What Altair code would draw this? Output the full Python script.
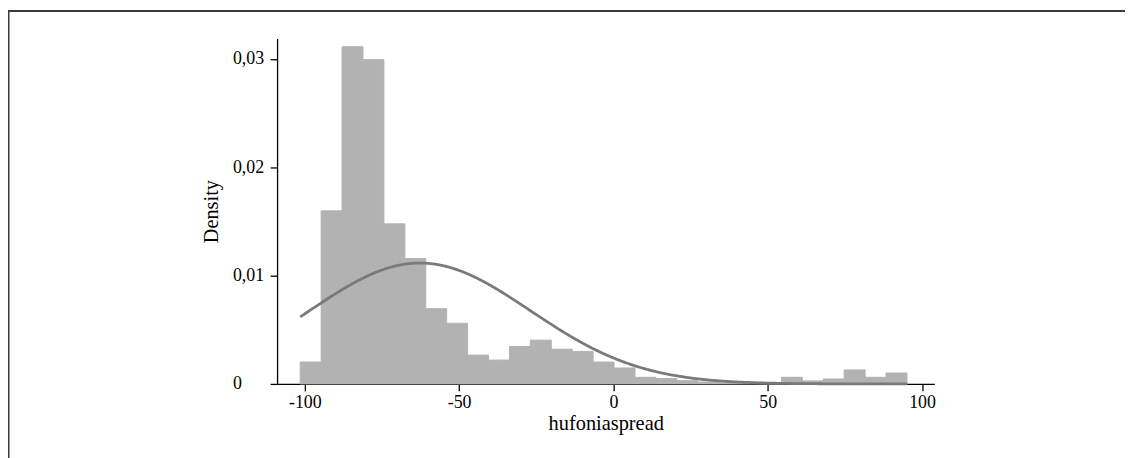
import altair as alt
import pandas as pd

# Histogram bin edges (hufoniaspread) and densities
bin_edges = [-101.5, -94.72, -87.94, -81.16, -74.38, -67.6, -60.82, -54.04, -47.26,
             -40.48, -33.7, -26.92, -20.14, -13.36, -6.58, 0.2, 6.98, 13.76, 20.54,
             27.32, 34.1, 40.88, 47.66, 54.44, 61.22, 68.0, 74.78, 81.56, 88.34, 95.12]
densities = [0.00202, 0.01598, 0.03113, 0.02994, 0.01478, 0.01157, 0.00695, 0.0056,
             0.00266, 0.0022, 0.00346, 0.00404, 0.00321, 0.0030, 0.00202, 0.00147,
             0.00061, 0.0005, 0.0003, 0.00018, 0.0001, 0.00005, 0.00003, 0.00061,
             0.00028, 0.00046, 0.00129, 0.00061, 0.00101]

# Fitted normal curve parameters
normal_mean = -62.7
normal_sd = 35.75

x_ticks = [-100, -50, 0, 50, 100]
y_ticks = [0, 0.01, 0.02, 0.03]

hist = pd.DataFrame({
    "lo": bin_edges[:-1],
    "hi": bin_edges[1:],
    "density": densities,
})

FONT = "Liberation Serif"
xscale = alt.Scale(domain=[-109, 104], nice=False, zero=False)
yscale = alt.Scale(domain=[0, 0.0319], nice=False)

bars = alt.Chart(hist).mark_rect(color="#b2b2b2", stroke="#b2b2b2", strokeWidth=1).encode(
    x=alt.X("lo:Q", scale=xscale,
            axis=alt.Axis(values=x_ticks, title="hufoniaspread",
                          labelExpr="'' + datum.value",
                          titleY=46, titleBaseline="alphabetic")),
    x2="hi:Q",
    y=alt.Y("density:Q", scale=yscale,
            axis=alt.Axis(values=y_ticks, title="Density",
                          labelExpr="datum.value == 0 ? '0' : replace(format(datum.value, '.2f'), '.', ',')",
                          labelAlign="left", labelPadding=38,
                          titleX=-66, titleY=174, titleAngle=-90,
                          titleAlign="center", titleBaseline="middle")),
    y2=alt.datum(0),
)

curve = alt.Chart(alt.sequence(-101.5, 95.3, 0.25, as_="cx")).transform_calculate(
    cd=f"densityNormal(datum.cx, {normal_mean}, {normal_sd})"
).mark_line(color="#7a7a7a", strokeWidth=2.8).encode(
    x=alt.X("cx:Q", scale=xscale),
    y=alt.Y("cd:Q", scale=yscale),
)

one = pd.DataFrame({"k": [0]})
frame_left = alt.Chart(one).mark_rule(color="#3a3a3a", strokeWidth=2).encode(
    x=alt.value(-270.5), y=alt.value(-28.5), y2=alt.value(500)
)
frame_top = alt.Chart(one).mark_rule(color="#3a3a3a", strokeWidth=2).encode(
    x=alt.value(-271.5), x2=alt.value(1000), y=alt.value(-27.5)
)

chart = alt.layer(bars, curve, frame_left, frame_top).properties(
    width=662, height=348,
    autosize=alt.AutoSizeParams(type="none"),
    padding={"left": 271, "top": 29, "right": 192, "bottom": 73},
).configure_view(strokeWidth=0).configure_axis(
    grid=False,
    domainColor="#000000", domainWidth=1.3,
    tickColor="#000000", tickSize=7, tickWidth=1.3,
    labelFont=FONT, labelFontSize=18, labelColor="#000000",
    titleFont=FONT, titleFontSize=20.5, titleColor="#000000", titleFontWeight="normal",
).configure_axisX(labelPadding=3)

chart.save("out.html", embed_options={"renderer": "svg", "actions": False})
